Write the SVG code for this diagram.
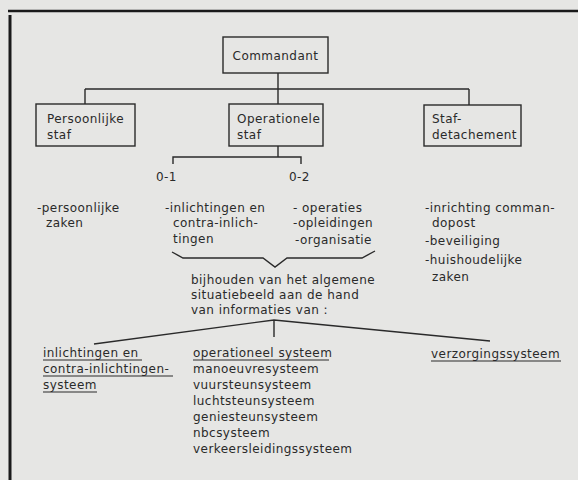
<svg xmlns="http://www.w3.org/2000/svg" width="578" height="480" viewBox="0 0 578 480">
<style>
text{font-family:"DejaVu Sans","Liberation Sans",sans-serif;font-size:12px;fill:#2a2a2a;letter-spacing:0.45px}
.box{fill:none;stroke:#2a2a2a;stroke-width:1.4}
.ln{fill:none;stroke:#2a2a2a;stroke-width:1.4}
.ul{fill:none;stroke:#2a2a2a;stroke-width:1.2}
.frame{stroke:#1a1a1a;fill:none}
</style>
<rect width="578" height="480" fill="#e6e6e4"/>
<line class="frame" x1="8" y1="11" x2="578" y2="11" stroke-width="2.6"/>
<line class="frame" x1="10" y1="15" x2="10" y2="480" stroke-width="3"/>

<g id="connectors">
<path class="ln" d="M278,73 V89 M85,89 H469 M85,89 V104 M278,89 V104 M469,89 V105"/>
<path class="ln" d="M278,146 V157 M173,164 V157 H301 V164"/>
<path class="ln" d="M172,252 L183,258 L263,258 L275,267 L287,258 L362,258 L375,251"/>
<path class="ln" d="M94,344 L274,320 L490,341 M274,320 V337"/>
</g>

<g id="commandant">
<rect class="box" x="223" y="37" width="105" height="36"/>
<text x="275.5" y="60" text-anchor="middle">Commandant</text>
</g>
<g id="persoonlijke-staf">
<rect class="box" x="36" y="104" width="99" height="42"/>
<text x="47" y="123">Persoonlijke</text>
<text x="47" y="139">staf</text>
</g>
<g id="operationele-staf">
<rect class="box" x="229" y="104" width="94" height="42"/>
<text x="237" y="123">Operationele</text>
<text x="237" y="139">staf</text>
</g>
<g id="staf-detachement">
<rect class="box" x="424" y="105" width="97" height="41"/>
<text x="432" y="123">Staf-</text>
<text x="432" y="139">detachement</text>
</g>

<g id="labels-01-02">
<text x="156" y="181">0-1</text>
<text x="289" y="181">0-2</text>
</g>

<g id="taken-persoonlijk">
<text x="37" y="212">-persoonlijke</text>
<text x="46" y="227">zaken</text>
</g>
<g id="taken-0-1">
<text x="165" y="212">-inlichtingen en</text>
<text x="173" y="227">contra-inlich-</text>
<text x="173" y="243">tingen</text>
</g>
<g id="taken-0-2">
<text x="293" y="212">- operaties</text>
<text x="293" y="227">-opleidingen</text>
<text x="295" y="244">-organisatie</text>
</g>
<g id="taken-detachement">
<text x="425" y="212">-inrichting comman-</text>
<text x="432" y="227">dopost</text>
<text x="425" y="245">-beveiliging</text>
<text x="425" y="264">-huishoudelijke</text>
<text x="432" y="281">zaken</text>
</g>

<g id="situatiebeeld">
<text x="191" y="284">bijhouden van het algemene</text>
<text x="191" y="299">situatiebeeld aan de hand</text>
<text x="191" y="314">van informaties van :</text>
</g>

<g id="inlichtingensysteem">
<text x="43" y="357">inlichtingen en</text>
<text x="43" y="373">contra-inlichtingen-</text>
<text x="43" y="389">systeem</text>
<path class="ul" d="M43,360 H142 M43,376 H173 M43,392 H97"/>
</g>
<g id="operationeel-systeem">
<text x="193" y="357">operationeel systeem</text>
<path class="ul" d="M193,360 H329"/>
<text x="193" y="373">manoeuvresysteem</text>
<text x="193" y="389">vuursteunsysteem</text>
<text x="193" y="405">luchtsteunsysteem</text>
<text x="193" y="421">geniesteunsysteem</text>
<text x="193" y="437">nbcsysteem</text>
<text x="193" y="453">verkeersleidingssysteem</text>
</g>
<g id="verzorgingssysteem">
<text x="431" y="358">verzorgingssysteem</text>
<path class="ul" d="M431,361 H561"/>
</g>
</svg>
